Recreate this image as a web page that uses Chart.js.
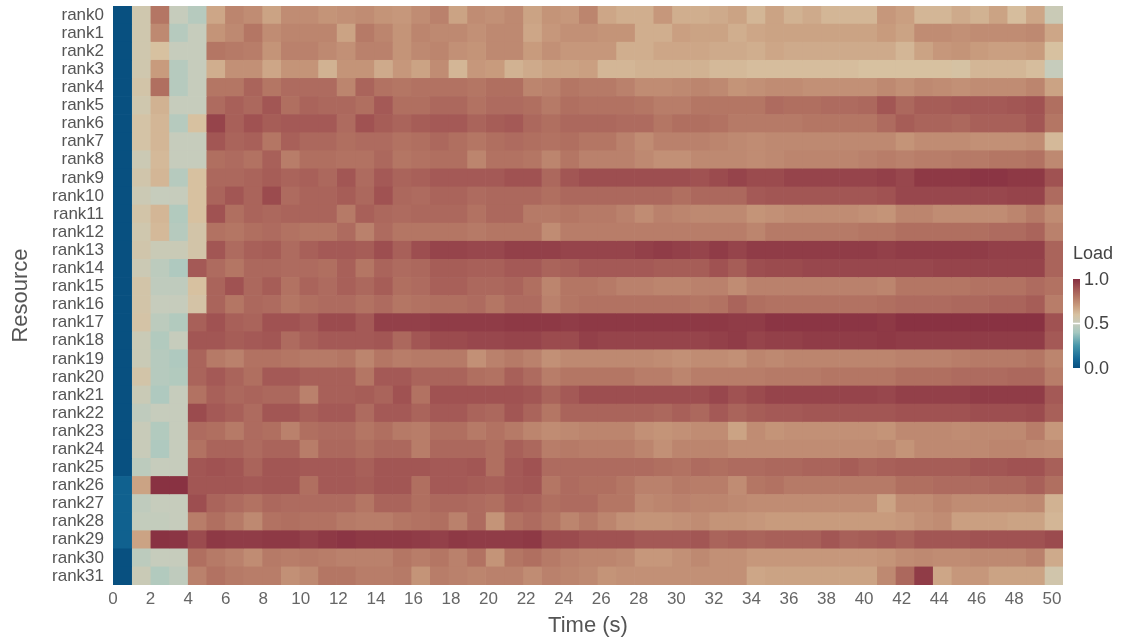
<!DOCTYPE html>
<html lang="en-US">
<head>
    <meta charset="utf-8">
    <title>Load heatmap</title>
    <script src="https://cdn.jsdelivr.net/npm/chart.js@4/dist/chart.umd.min.js"></script>
</head>
<style>
    body { margin: 0; background: #fff; }
    #holder { width: 1121px; height: 640px; }
</style>
<body>
<div id="holder">
    <canvas id="chart" width="1121" height="640"></canvas>
</div>
<script>
    // resources (rows, top to bottom)
    let ranks = [];
    for (let i = 0; i < 32; i++) ranks.push('rank' + i);

    // time bins (s): 51 bins, each ~0.992 s wide
    let binWidth = 0.992;
    let binStarts = [];
    for (let k = 0; k < 51; k++) binStarts.push(k * binWidth);

    let xTicks = [0, 2, 4, 6, 8, 10, 12, 14, 16, 18, 20, 22, 24, 26, 28, 30, 32, 34, 36, 38, 40, 42, 44, 46, 48, 50];
    let legendTicks = [0.0, 0.5, 1.0];

    // load per rank, one value per time bin
    let load = [
        [0, .55, .8, .5, .45, .67, .76, .74, .68, .74, .74, .72, .73, .74, .72, .71, .74, .77, .68, .74, .73, .75, .68, .72, .71, .76, .67, .65, .65, .71, .65, .65, .66, .68, .63, .68, .64, .66, .63, .63, .63, .71, .69, .63, .63, .66, .64, .68, .61, .67, .52],
        [0, .55, .75, .45, .5, .72, .75, .8, .74, .76, .76, .76, .68, .79, .76, .72, .76, .75, .75, .73, .75, .75, .67, .71, .73, .73, .72, .72, .65, .65, .69, .68, .68, .65, .67, .68, .68, .68, .68, .68, .68, .7, .68, .74, .74, .73, .74, .74, .74, .75, .67],
        [0, .55, .6, .5, .5, .8, .79, .78, .72, .77, .77, .75, .73, .77, .77, .72, .75, .76, .73, .72, .75, .75, .7, .73, .71, .71, .71, .65, .65, .67, .67, .67, .66, .66, .65, .67, .66, .66, .66, .66, .66, .66, .63, .68, .71, .72, .7, .69, .69, .7, .6],
        [0, .55, .7, .45, .5, .65, .73, .73, .67, .72, .72, .64, .72, .72, .66, .71, .68, .74, .63, .71, .7, .64, .66, .68, .68, .69, .63, .63, .64, .64, .64, .64, .62, .62, .61, .61, .61, .61, .61, .61, .6, .6, .6, .6, .6, .59, .63, .63, .63, .61, .5],
        [0, .57, .82, .45, .5, .8, .8, .85, .8, .83, .83, .83, .76, .85, .81, .8, .81, .81, .81, .8, .82, .82, .76, .77, .8, .79, .79, .77, .74, .74, .75, .76, .75, .72, .73, .74, .74, .73, .73, .73, .73, .75, .73, .75, .74, .73, .74, .74, .74, .76, .68],
        [0, .55, .64, .5, .5, .83, .86, .84, .89, .82, .85, .84, .84, .82, .88, .82, .82, .84, .84, .81, .83, .83, .82, .79, .82, .81, .81, .81, .8, .78, .78, .8, .8, .8, .8, .83, .82, .82, .83, .83, .84, .89, .84, .87, .87, .88, .88, .88, .89, .9, .82],
        [0, .58, .63, .45, .6, .94, .86, .9, .87, .88, .88, .88, .83, .9, .87, .85, .87, .88, .88, .85, .87, .88, .84, .82, .84, .84, .84, .83, .83, .8, .82, .82, .81, .79, .79, .79, .79, .8, .8, .8, .8, .83, .87, .85, .85, .84, .86, .86, .86, .89, .8],
        [0, .58, .63, .5, .5, .89, .85, .86, .8, .86, .84, .84, .82, .83, .83, .81, .82, .84, .82, .8, .82, .83, .82, .81, .82, .8, .8, .77, .74, .77, .77, .77, .76, .75, .74, .75, .75, .75, .75, .75, .75, .75, .72, .74, .74, .74, .73, .73, .73, .74, .62],
        [0, .53, .62, .5, .5, .82, .83, .81, .86, .78, .82, .82, .81, .81, .84, .8, .81, .82, .82, .76, .81, .81, .8, .76, .8, .77, .77, .77, .75, .73, .73, .75, .75, .75, .74, .75, .76, .76, .76, .76, .77, .78, .77, .78, .78, .79, .79, .8, .8, .81, .75],
        [0, .56, .63, .45, .6, .84, .84, .85, .87, .85, .86, .84, .89, .83, .88, .85, .86, .88, .88, .88, .88, .9, .9, .84, .89, .91, .91, .91, .91, .91, .91, .9, .92, .94, .92, .92, .94, .94, .94, .94, .94, .95, .93, .97, .97, .97, .98, .98, .97, .97, .9],
        [0, .53, .5, .5, .6, .85, .89, .85, .92, .83, .85, .85, .87, .84, .9, .84, .83, .85, .85, .83, .84, .84, .84, .82, .84, .84, .84, .84, .84, .84, .82, .84, .84, .84, .88, .89, .89, .89, .89, .89, .89, .9, .93, .93, .93, .93, .93, .93, .94, .94, .83],
        [0, .57, .63, .44, .6, .9, .82, .85, .84, .85, .85, .85, .79, .86, .84, .83, .84, .84, .84, .81, .84, .84, .79, .79, .8, .79, .79, .77, .74, .77, .76, .75, .75, .75, .72, .73, .74, .74, .74, .74, .73, .72, .76, .76, .74, .74, .74, .74, .76, .79, .74],
        [0, .55, .62, .45, .57, .81, .8, .82, .83, .81, .8, .8, .83, .77, .83, .8, .8, .8, .8, .79, .8, .8, .8, .74, .78, .78, .78, .78, .78, .78, .78, .78, .78, .78, .76, .79, .79, .79, .79, .79, .8, .8, .82, .82, .82, .82, .82, .83, .83, .85, .77],
        [0, .56, .52, .52, .57, .89, .83, .86, .87, .83, .86, .88, .88, .87, .91, .86, .91, .94, .94, .93, .93, .95, .95, .95, .94, .94, .94, .94, .95, .96, .95, .94, .96, .94, .96, .96, .96, .96, .96, .96, .96, .95, .96, .96, .96, .96, .96, .95, .95, .95, .85],
        [0, .53, .47, .43, .88, .83, .8, .84, .84, .83, .83, .82, .86, .8, .85, .83, .84, .87, .87, .86, .86, .88, .88, .85, .86, .88, .88, .88, .88, .87, .87, .87, .9, .87, .91, .92, .92, .93, .93, .93, .93, .93, .93, .93, .94, .94, .94, .94, .94, .94, .85],
        [0, .57, .48, .48, .6, .85, .9, .84, .87, .81, .85, .83, .86, .84, .87, .82, .83, .86, .86, .84, .84, .85, .82, .76, .8, .8, .79, .77, .77, .76, .76, .77, .77, .74, .77, .77, .77, .77, .77, .77, .77, .76, .8, .8, .8, .8, .81, .81, .81, .83, .81],
        [0, .57, .5, .5, .58, .85, .8, .84, .83, .8, .82, .83, .83, .81, .83, .8, .81, .82, .82, .83, .8, .83, .83, .77, .8, .81, .81, .81, .81, .81, .81, .8, .81, .85, .82, .81, .81, .81, .81, .81, .81, .82, .83, .83, .83, .84, .84, .85, .85, .87, .78],
        [0, .58, .47, .44, .86, .9, .86, .85, .9, .9, .88, .92, .92, .88, .95, .95, .95, .96, .96, .96, .96, .97, .97, .97, .96, .97, .97, .97, .97, .97, .97, .97, .97, .96, .96, .98, .98, .98, .98, .98, .98, .97, .99, .99, .99, .99, .99, .99, .99, .99, .9],
        [0, .52, .44, .5, .89, .89, .87, .88, .89, .83, .86, .88, .88, .88, .89, .84, .89, .92, .92, .93, .93, .94, .94, .92, .92, .95, .94, .94, .94, .94, .94, .94, .95, .96, .94, .95, .95, .96, .96, .96, .96, .97, .96, .96, .96, .96, .96, .96, .96, .96, .88],
        [0, .52, .45, .43, .85, .79, .77, .81, .81, .8, .79, .79, .8, .76, .8, .78, .79, .79, .79, .73, .77, .79, .77, .73, .75, .75, .75, .75, .75, .74, .73, .74, .74, .73, .76, .75, .76, .76, .76, .76, .76, .76, .77, .77, .77, .78, .79, .79, .79, .8, .76],
        [0, .57, .45, .44, .85, .88, .85, .82, .88, .88, .86, .86, .86, .8, .88, .88, .85, .85, .85, .82, .81, .86, .83, .78, .8, .8, .8, .8, .78, .78, .76, .78, .78, .78, .78, .79, .79, .79, .8, .8, .8, .8, .82, .82, .82, .83, .83, .83, .84, .84, .78],
        [0, .52, .43, .5, .81, .86, .84, .85, .84, .84, .77, .86, .86, .87, .85, .9, .81, .9, .9, .9, .9, .9, .89, .85, .88, .91, .91, .91, .91, .91, .91, .91, .93, .9, .92, .94, .94, .94, .94, .94, .94, .93, .95, .95, .95, .95, .96, .96, .96, .96, .88],
        [0, .48, .5, .5, .92, .88, .86, .83, .89, .89, .86, .88, .88, .83, .88, .88, .85, .88, .88, .85, .84, .89, .85, .8, .85, .85, .85, .85, .85, .84, .86, .84, .88, .85, .87, .88, .88, .89, .89, .89, .89, .89, .9, .9, .9, .9, .91, .91, .91, .92, .86],
        [0, .51, .44, .5, .83, .82, .79, .83, .82, .77, .82, .83, .83, .8, .82, .79, .78, .82, .82, .79, .81, .79, .76, .74, .75, .76, .76, .76, .73, .72, .73, .74, .74, .68, .74, .72, .73, .73, .73, .73, .73, .72, .75, .75, .75, .74, .75, .75, .75, .78, .71],
        [0, .51, .43, .5, .81, .85, .85, .83, .85, .85, .78, .84, .84, .82, .84, .84, .78, .84, .84, .84, .82, .86, .84, .78, .79, .78, .78, .78, .76, .73, .76, .76, .76, .74, .74, .74, .74, .74, .74, .74, .74, .75, .72, .75, .75, .75, .75, .76, .76, .75, .74],
        [0, .47, .5, .5, .89, .9, .89, .85, .89, .89, .88, .88, .88, .86, .89, .89, .89, .88, .88, .89, .82, .88, .9, .83, .83, .83, .83, .83, .83, .82, .81, .83, .82, .83, .83, .84, .84, .85, .85, .87, .85, .86, .87, .87, .87, .87, .89, .89, .9, .9, .86],
        [.07, .68, .99, .99, .89, .89, .89, .88, .89, .89, .82, .88, .88, .87, .89, .89, .82, .88, .88, .87, .86, .88, .89, .8, .83, .82, .82, .8, .77, .77, .79, .78, .78, .74, .8, .81, .79, .79, .79, .79, .79, .79, .82, .82, .83, .83, .83, .84, .84, .86, .82],
        [.07, .48, .5, .5, .91, .85, .83, .81, .84, .83, .83, .83, .83, .8, .85, .85, .82, .84, .84, .83, .82, .86, .85, .82, .83, .83, .8, .8, .75, .76, .77, .76, .76, .75, .74, .74, .74, .74, .74, .74, .74, .68, .74, .74, .76, .74, .74, .74, .74, .75, .64],
        [.07, .49, .49, .5, .78, .82, .79, .75, .81, .82, .81, .81, .79, .78, .78, .8, .81, .82, .77, .83, .72, .81, .83, .8, .76, .79, .76, .73, .72, .72, .73, .74, .72, .72, .71, .7, .7, .7, .7, .7, .7, .7, .71, .73, .74, .69, .69, .69, .68, .68, .63],
        [.07, .68, .99, .98, .92, .97, .96, .96, .97, .97, .95, .97, .98, .97, .97, .97, .96, .95, .97, .96, .96, .96, .97, .92, .92, .9, .9, .9, .88, .88, .88, .89, .85, .86, .85, .86, .86, .86, .89, .86, .87, .88, .86, .89, .89, .89, .9, .9, .9, .9, .92],
        [0, .47, .5, .5, .82, .79, .77, .74, .79, .78, .79, .78, .77, .77, .77, .8, .78, .8, .77, .81, .72, .8, .82, .79, .77, .76, .76, .75, .71, .71, .73, .75, .73, .73, .71, .71, .71, .71, .71, .71, .71, .72, .74, .75, .74, .74, .75, .75, .75, .77, .66],
        [0, .52, .44, .48, .77, .81, .79, .78, .78, .73, .75, .8, .8, .78, .78, .79, .72, .78, .77, .76, .77, .77, .74, .77, .76, .75, .72, .73, .73, .73, .73, .73, .73, .73, .67, .68, .68, .68, .68, .68, .68, .75, .84, .96, .67, .71, .71, .68, .68, .68, .56]
    ];

    // diverging blue -> beige -> maroon scale
    const colorStops = [
        [0.0, [8, 80, 128]],
        [0.1, [20, 104, 150]],
        [0.25, [70, 150, 170]],
        [0.4, [165, 200, 192]],
        [0.5, [198, 204, 188]],
        [0.6, [215, 193, 160]],
        [0.7, [200, 155, 125]],
        [0.8, [180, 118, 100]],
        [0.9, [160, 82, 82]],
        [1.0, [134, 46, 64]]
    ];

    function loadColor(v) {
        v = Math.max(0, Math.min(1, v));
        for (let i = 1; i < colorStops.length; i++) {
            let a = colorStops[i - 1], b = colorStops[i];
            if (v <= b[0]) {
                let t = (v - a[0]) / (b[0] - a[0]);
                let c = a[1].map((ch, j) => Math.round(ch + (b[1][j] - ch) * t));
                return 'rgb(' + c.join(',') + ')';
            }
        }
        return 'rgb(' + colorStops[colorStops.length - 1][1].join(',') + ')';
    }

    // one dataset per time bin, one floating bar per rank
    let datasets = binStarts.map(function (t0, k) {
        return {
            data: ranks.map(() => [t0, t0 + binWidth]),
            backgroundColor: ranks.map((r, j) => loadColor(load[j][k])),
            borderWidth: 0,
            grouped: false,
            barPercentage: 1,
            categoryPercentage: 1
        };
    });

    const colorbar = {
        id: 'colorbar',
        afterDraw(chart) {
            const ctx = chart.ctx;
            const x = 1073, w = 7, top = 279, bottom = 368;
            ctx.save();
            let grad = ctx.createLinearGradient(0, bottom, 0, top);
            colorStops.forEach(s => grad.addColorStop(s[0], 'rgb(' + s[1].join(',') + ')'));
            ctx.fillStyle = grad;
            ctx.fillRect(x, top, w, bottom - top);

            ctx.font = '18px "Liberation Sans", Arial, sans-serif';
            ctx.fillStyle = '#444';
            ctx.textBaseline = 'middle';
            ctx.textAlign = 'left';
            ctx.fillText('Load', 1073, 254);

            legendTicks.forEach(function (v) {
                let y = bottom - v * (bottom - top);
                if (v > 0 && v < 1) {
                    ctx.fillStyle = '#fff';
                    ctx.fillRect(x, y - 0.75, w, 1.5);
                }
                ctx.fillStyle = '#444';
                ctx.fillText(v.toFixed(1), x + 11, y + 1);
            });
            ctx.restore();
        }
    };

    const config = {
        type: 'bar',
        data: {
            labels: ranks,
            datasets: datasets
        },
        options: {
            indexAxis: 'y',
            responsive: false,
            animation: false,
            layout: {
                padding: { top: 6, right: 58, bottom: 0, left: 0 }
            },
            plugins: {
                legend: { display: false },
                tooltip: { enabled: false }
            },
            scales: {
                x: {
                    type: 'linear',
                    min: 0,
                    max: binStarts.length * binWidth,
                    grid: { display: false, drawTicks: false },
                    border: { display: false },
                    afterBuildTicks: function (scale) {
                        scale.ticks = xTicks.map(v => ({ value: v }));
                    },
                    ticks: {
                        includeBounds: false,
                        autoSkip: false,
                        maxRotation: 0,
                        padding: 4,
                        color: '#666',
                        font: { family: '"Liberation Sans", Arial, sans-serif', size: 17 }
                    },
                    title: {
                        display: true,
                        text: 'Time (s)',
                        color: '#555',
                        font: { family: '"Liberation Sans", Arial, sans-serif', size: 22 },
                        padding: { top: 0, bottom: 1 }
                    },
                    afterFit: function (scale) { scale.height = 55; }
                },
                y: {
                    type: 'category',
                    offset: true,
                    grid: { display: false, drawTicks: false },
                    border: { display: false },
                    ticks: {
                        autoSkip: false,
                        padding: 9,
                        color: '#555',
                        font: { family: '"Liberation Sans", Arial, sans-serif', size: 17 }
                    },
                    title: {
                        display: true,
                        text: 'Resource',
                        color: '#555',
                        font: { family: '"Liberation Sans", Arial, sans-serif', size: 22 },
                        padding: { top: 8, bottom: 0 }
                    },
                    afterFit: function (scale) {
                        scale.width = 113;
                        scale.paddingTop = 0;
                        scale.paddingBottom = 0;
                    }
                }
            }
        },
        plugins: [colorbar]
    };

    window.onload = function () {
        let ctx = document.getElementById('chart').getContext('2d');
        window.myHeatmap = new Chart(ctx, config);
    };
</script>
</body>
</html>
